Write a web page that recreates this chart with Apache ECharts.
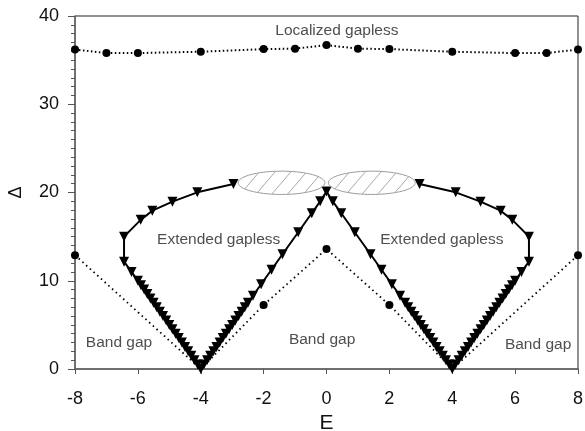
<!DOCTYPE html>
<html>
<head>
<meta charset="utf-8">
<script src="https://cdn.jsdelivr.net/npm/echarts@6/dist/echarts.min.js"></script>
<style>
  html, body { margin: 0; padding: 0; background: #fff; }
  #chart { width: 585px; height: 431px; }
</style>
</head>
<body>
<div id="chart"></div>
<script>
// localized gapless (top dotted line)
var locE = [-8, -7, -6, -4, -2, -1, 0, 1, 2, 4, 6, 7, 8];
var locGap = [36.2, 35.8, 35.8, 35.95, 36.25, 36.3, 36.7, 36.3, 36.25, 35.95, 35.8, 35.8, 36.2];

// band gap edge (lower dotted line)
var bandE = [-8, -4, -2, 0, 2, 4, 8];
var bandGap = [12.9, 0, 7.25, 13.6, 7.25, 0, 12.9];
var bandDot = [true, false, true, true, true, false, true];

// extended gapless boundary (triangles)
var extE = [
  -2.96, -4.11, -4.90, -5.54, -5.91, -6.44, -6.44, -6.2,
  -6.0, -5.9, -5.8, -5.7, -5.6, -5.5, -5.4, -5.3, -5.2, -5.1, -5.0, -4.9, -4.8, -4.7, -4.6, -4.5, -4.4, -4.3, -4.2, -4.1, -4.0,
  -3.9, -3.8, -3.7, -3.6, -3.5, -3.4, -3.3, -3.2, -3.1, -3.0, -2.9, -2.8, -2.7, -2.6, -2.5,
  -2.34, -2.08, -1.75, -1.4, -0.9, -0.47, -0.2, 0,
  0.2, 0.47, 0.9, 1.4, 1.75, 2.08, 2.34,
  2.5, 2.6, 2.7, 2.8, 2.9, 3.0, 3.1, 3.2, 3.3, 3.4, 3.5, 3.6, 3.7, 3.8, 3.9,
  4.0, 4.1, 4.2, 4.3, 4.4, 4.5, 4.6, 4.7, 4.8, 4.9, 5.0, 5.1, 5.2, 5.3, 5.4, 5.5, 5.6, 5.7, 5.8, 5.9, 6.0,
  6.2, 6.44, 6.44, 5.91, 5.54, 4.90, 4.11, 2.96
];
var extGap = [
  20.96, 20.02, 18.96, 17.94, 16.9, 15.0, 12.16, 11.0,
  10.0, 9.5, 9.0, 8.5, 8.0, 7.5, 7.0, 6.5, 6.0, 5.5, 5.0, 4.5, 4.0, 3.5, 3.0, 2.5, 2.0, 1.5, 1.0, 0.5, 0,
  0.5, 1.0, 1.5, 2.0, 2.5, 3.0, 3.5, 4.0, 4.5, 5.0, 5.5, 6.0, 6.5, 7.0, 7.5,
  8.3, 9.6, 11.25, 13.0, 15.5, 17.65, 19.0, 20.1,
  19.0, 17.65, 15.5, 13.0, 11.25, 9.6, 8.3,
  7.5, 7.0, 6.5, 6.0, 5.5, 5.0, 4.5, 4.0, 3.5, 3.0, 2.5, 2.0, 1.5, 1.0, 0.5,
  0, 0.5, 1.0, 1.5, 2.0, 2.5, 3.0, 3.5, 4.0, 4.5, 5.0, 5.5, 6.0, 6.5, 7.0, 7.5, 8.0, 8.5, 9.0, 9.5, 10.0,
  11.0, 12.16, 15.0, 16.9, 17.94, 18.96, 20.02, 20.96
];

// hatched ellipses (centre E, centre Δ, half width in E, half height in Δ)
var ellE = [-1.43, 1.44];
var ellGap = [21.1, 21.1];
var ellHalfE = 1.38;
var ellHalfGap = 1.32;

// region labels
var noteText = ['Localized gapless', 'Extended gapless', 'Extended gapless', 'Band gap', 'Band gap', 'Band gap'];
var noteE = [0.33, -3.43, 3.67, -6.6, -0.14, 6.73];
var noteGap = [38.3, 14.7, 14.7, 3.0, 3.3, 2.7];

var xTicks = [-8, 8, 2];
var yTicks = [0, 40, 10];

function pairs(a, b) {
  return a.map(function (v, i) { return [v, b[i]]; });
}

var chart = echarts.init(document.getElementById('chart'));

function drawEllipse(params, api) {
  var c = api.coord([api.value(0), api.value(1)]);
  var e = api.coord([api.value(0) + ellHalfE, api.value(1) + ellHalfGap]);
  var rx = Math.abs(e[0] - c[0]), ry = Math.abs(c[1] - e[1]);
  var pts = [];
  for (var k = 0; k < 72; k++) {
    var a = k / 72 * Math.PI * 2;
    pts.push([c[0] + rx * Math.cos(a), c[1] + ry * Math.sin(a)]);
  }
  var kids = [{
    type: 'polygon',
    shape: { points: pts },
    style: { fill: 'none', stroke: '#9a9a9a', lineWidth: 1 }
  }];
  // hatch lines "/"
  var dl = Math.sqrt(0.65 * 0.65 + 0.76 * 0.76);
  var dx = 0.65 / dl, dy = -0.76 / dl;
  var nx = -dy, ny = dx;
  var A = dx * dx / (rx * rx) + dy * dy / (ry * ry);
  for (var s = -60; s <= 60; s += 12) {
    var B = 2 * s * (nx * dx / (rx * rx) + ny * dy / (ry * ry));
    var C = s * s * (nx * nx / (rx * rx) + ny * ny / (ry * ry)) - 1;
    var disc = B * B - 4 * A * C;
    if (disc <= 0) continue;
    var t1 = (-B - Math.sqrt(disc)) / (2 * A), t2 = (-B + Math.sqrt(disc)) / (2 * A);
    kids.push({
      type: 'line',
      shape: {
        x1: c[0] + s * nx + t1 * dx, y1: c[1] + s * ny + t1 * dy,
        x2: c[0] + s * nx + t2 * dx, y2: c[1] + s * ny + t2 * dy
      },
      style: { stroke: '#a8a8a8', lineWidth: 1 }
    });
  }
  return { type: 'group', children: kids };
}

chart.setOption({
  animation: false,
  textStyle: { fontFamily: 'Liberation Sans, Arial, sans-serif' },
  grid: {
    left: 75, right: 7, top: 16, bottom: 62,
    outerBoundsMode: 'none', containLabel: false,
    show: true, borderColor: '#222', borderWidth: 1
  },
  xAxis: {
    type: 'value', min: xTicks[0], max: xTicks[1], interval: xTicks[2],
    name: 'E', nameLocation: 'middle', nameGap: 41,
    nameTextStyle: { fontSize: 21, color: '#111' },
    axisLine: { onZero: false, lineStyle: { color: '#666', width: 1.5 } },
    axisTick: { show: true, inside: false, length: 5, lineStyle: { color: '#555' } },
    axisLabel: { fontSize: 18, color: '#111', margin: 21 },
    splitLine: { show: false }
  },
  yAxis: {
    type: 'value', min: yTicks[0], max: yTicks[1], interval: yTicks[2],
    name: 'Δ', nameLocation: 'middle', nameGap: 50, nameRotate: 90,
    nameTextStyle: { fontSize: 18, color: '#111' },
    axisLine: { onZero: false, lineStyle: { color: '#666', width: 1.5 } },
    axisTick: { show: true, inside: false, length: 7, lineStyle: { color: '#555' } },
    minorTick: { show: true, splitNumber: 10, length: 4, lineStyle: { color: '#555' } },
    axisLabel: { fontSize: 18, color: '#111', margin: 16 },
    splitLine: { show: false }
  },
  series: [
    {
      type: 'line', data: pairs(locE, locGap), silent: true,
      symbol: 'circle', symbolSize: 8,
      itemStyle: { color: '#000' },
      lineStyle: { color: '#000', width: 2, type: [1.5, 2.5] },
      z: 3
    },
    {
      type: 'line', silent: true,
      data: bandE.map(function (v, i) {
        return { value: [v, bandGap[i]], symbolSize: bandDot[i] ? 8 : 0 };
      }),
      symbol: 'circle',
      itemStyle: { color: '#000' },
      lineStyle: { color: '#000', width: 1.8, type: [1.5, 3.5] },
      z: 2
    },
    {
      type: 'line', data: pairs(extE, extGap), silent: true,
      symbol: 'triangle', symbolRotate: 180, symbolSize: 10,
      itemStyle: { color: '#000' },
      lineStyle: { color: '#000', width: 2 },
      z: 4
    },
    {
      type: 'custom', silent: true, data: pairs(ellE, ellGap),
      renderItem: drawEllipse, z: 5
    },
    {
      type: 'scatter', silent: true, symbolSize: 0,
      data: noteText.map(function (t, i) { return { name: t, value: [noteE[i], noteGap[i]] }; }),
      label: {
        show: true, position: 'inside', formatter: '{b}',
        fontSize: 15.5, color: '#222'
      },
      z: 6
    }
  ]
});
</script>
</body>
</html>
